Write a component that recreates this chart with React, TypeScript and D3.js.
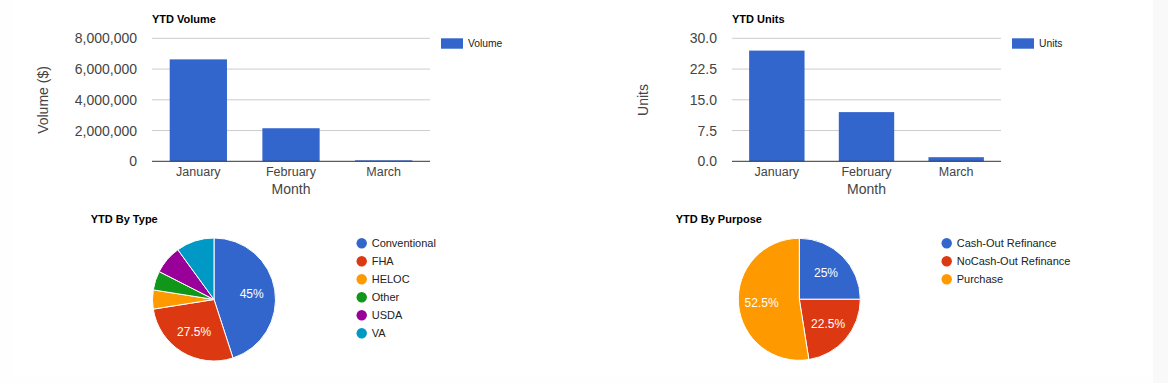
import React from "react";
import * as d3 from "d3";

const months = ["January", "February", "March"];
const volumeValues = [6630000, 2150000, 65000];
const unitsValues = [27, 12, 1];
const volumeTicks = [0, 2000000, 4000000, 6000000, 8000000];
const unitsTicks = [0, 7.5, 15, 22.5, 30];

const typeLabels = ["Conventional", "FHA", "HELOC", "Other", "USDA", "VA"];
const typeValues = [18, 11, 2, 2, 3, 4];
const purposeLabels = ["Cash-Out Refinance", "NoCash-Out Refinance", "Purchase"];
const purposeValues = [10, 9, 21];

const palette = ["#3366cc", "#dc3912", "#ff9900", "#109618", "#990099", "#0099c6"];
const FONT = "Arial, 'Liberation Sans', sans-serif";

type BarProps = {
  x0: number; x1: number; title: string; yTitle: string; yTitleX: number;
  values: number[]; ticks: number[]; max: number; fmt: (v: number) => string;
  legend: string; legendX: number;
};

function BarChart(p: BarProps) {
  const yTop = 38.3, yBot = 161.3;
  const x = d3.scaleBand<string>().domain(months).range([p.x0, p.x1]).paddingInner(0.382).paddingOuter(0.191);
  const y = d3.scaleLinear().domain([0, p.max]).range([yBot, yTop]);
  const cx = (p.x0 + p.x1) / 2;
  return (
    <g fontFamily={FONT}>
      <text x={p.x0} y={22.5} fontSize={11} fontWeight="bold" fill="#000">{p.title}</text>
      {p.ticks.map((t) => (
        <g key={t}>
          {t !== 0 && <line x1={p.x0} x2={p.x1} y1={y(t)} y2={y(t)} stroke="#cccccc" strokeWidth={1} />}
          <text x={p.x0 - 15} y={y(t)} dy="0.36em" textAnchor="end" fontSize={14} fill="#444">{p.fmt(t)}</text>
        </g>
      ))}
      {months.map((m, i) => (
        <rect key={m} x={x(m)} width={x.bandwidth()} y={y(p.values[i])} height={yBot - y(p.values[i])} fill="#3366cc" />
      ))}
      <line x1={p.x0} x2={p.x1} y1={yBot} y2={yBot} stroke="#333" strokeWidth={1} />
      {months.map((m) => (
        <text key={m} x={(x(m) as number) + x.bandwidth() / 2} y={171.7} dy="0.36em" textAnchor="middle" fontSize={12.5} fill="#444">{m}</text>
      ))}
      <text x={cx} y={189.3} dy="0.36em" textAnchor="middle" fontSize={14} fill="#444">Month</text>
      <text transform={`translate(${p.yTitleX},100) rotate(-90)`} dy="0.36em" textAnchor="middle" fontSize={14} fill="#444">{p.yTitle}</text>
      <rect x={p.legendX} y={38.3} width={22} height={10.4} fill="#3366cc" />
      <text x={p.legendX + 27} y={47} fontSize={10.3} fill="#222">{p.legend}</text>
    </g>
  );
}

type PieProps = {
  title: string; titleX: number; cx: number; cy: number; r: number;
  labels: string[]; values: number[]; legendX: number;
};

function PieChart(p: PieProps) {
  const total = d3.sum(p.values);
  const pie = d3.pie<number>().sort(null).value((d) => d)(p.values);
  const arc = d3.arc<d3.PieArcDatum<number>>().innerRadius(0).outerRadius(p.r);
  const lab = d3.arc<d3.PieArcDatum<number>>().innerRadius(p.r * 0.62).outerRadius(p.r * 0.62);
  const fmt = (v: number) => `${d3.format(".3~f")(v)}%`;
  return (
    <g fontFamily={FONT}>
      <text x={p.titleX} y={223} fontSize={11} fontWeight="bold" fill="#000">{p.title}</text>
      <g transform={`translate(${p.cx},${p.cy})`}>
        {pie.map((s, i) => (
          <path key={i} d={arc(s) as string} fill={palette[i]} stroke="#fff" strokeWidth={1} />
        ))}
        {pie.map((s, i) => {
          const pct = (s.value / total) * 100;
          if (pct < 20) return null;
          const [lx, ly] = lab.centroid(s);
          return (
            <text key={"l" + i} x={lx} y={ly} dy="0.36em" textAnchor="middle" fontSize={12} fill="#fff">{fmt(pct)}</text>
          );
        })}
      </g>
      {p.labels.map((l, i) => (
        <g key={l}>
          <circle cx={p.legendX} cy={243.3 + i * 18} r={5.2} fill={palette[i]} />
          <text x={p.legendX + 10} y={243.3 + i * 18} dy="0.36em" fontSize={11} fill="#222">{l}</text>
        </g>
      ))}
    </g>
  );
}

export default function App() {
  const volFmt = d3.format(",");
  const unitFmt = d3.format(".1f");
  return (
    <svg width={1168} height={383} style={{ position: "absolute", left: 0, top: 0, background: "#fff" }}>
      <rect x={0} y={0} width={1168} height={383} fill="#fefefe" />
      <rect x={12} y={0} width={1141} height={376} fill="#ffffff" />
      <rect x={1153} y={0} width={15} height={383} fill="#f9f9f9" />
      <BarChart x0={152} x1={430} title="YTD Volume" yTitle="Volume ($)" yTitleX={43.3}
        values={volumeValues} ticks={volumeTicks} max={8000000} fmt={volFmt} legend="Volume" legendX={441} />
      <BarChart x0={732} x1={1001} title="YTD Units" yTitle="Units" yTitleX={643}
        values={unitsValues} ticks={unitsTicks} max={30} fmt={unitFmt} legend="Units" legendX={1012} />
      <PieChart title="YTD By Type" titleX={90.7} cx={214} cy={299.5} r={61.5}
        labels={typeLabels} values={typeValues} legendX={361.7} />
      <PieChart title="YTD By Purpose" titleX={675.7} cx={799.3} cy={299.3} r={61}
        labels={purposeLabels} values={purposeValues} legendX={946.7} />
    </svg>
  );
}
